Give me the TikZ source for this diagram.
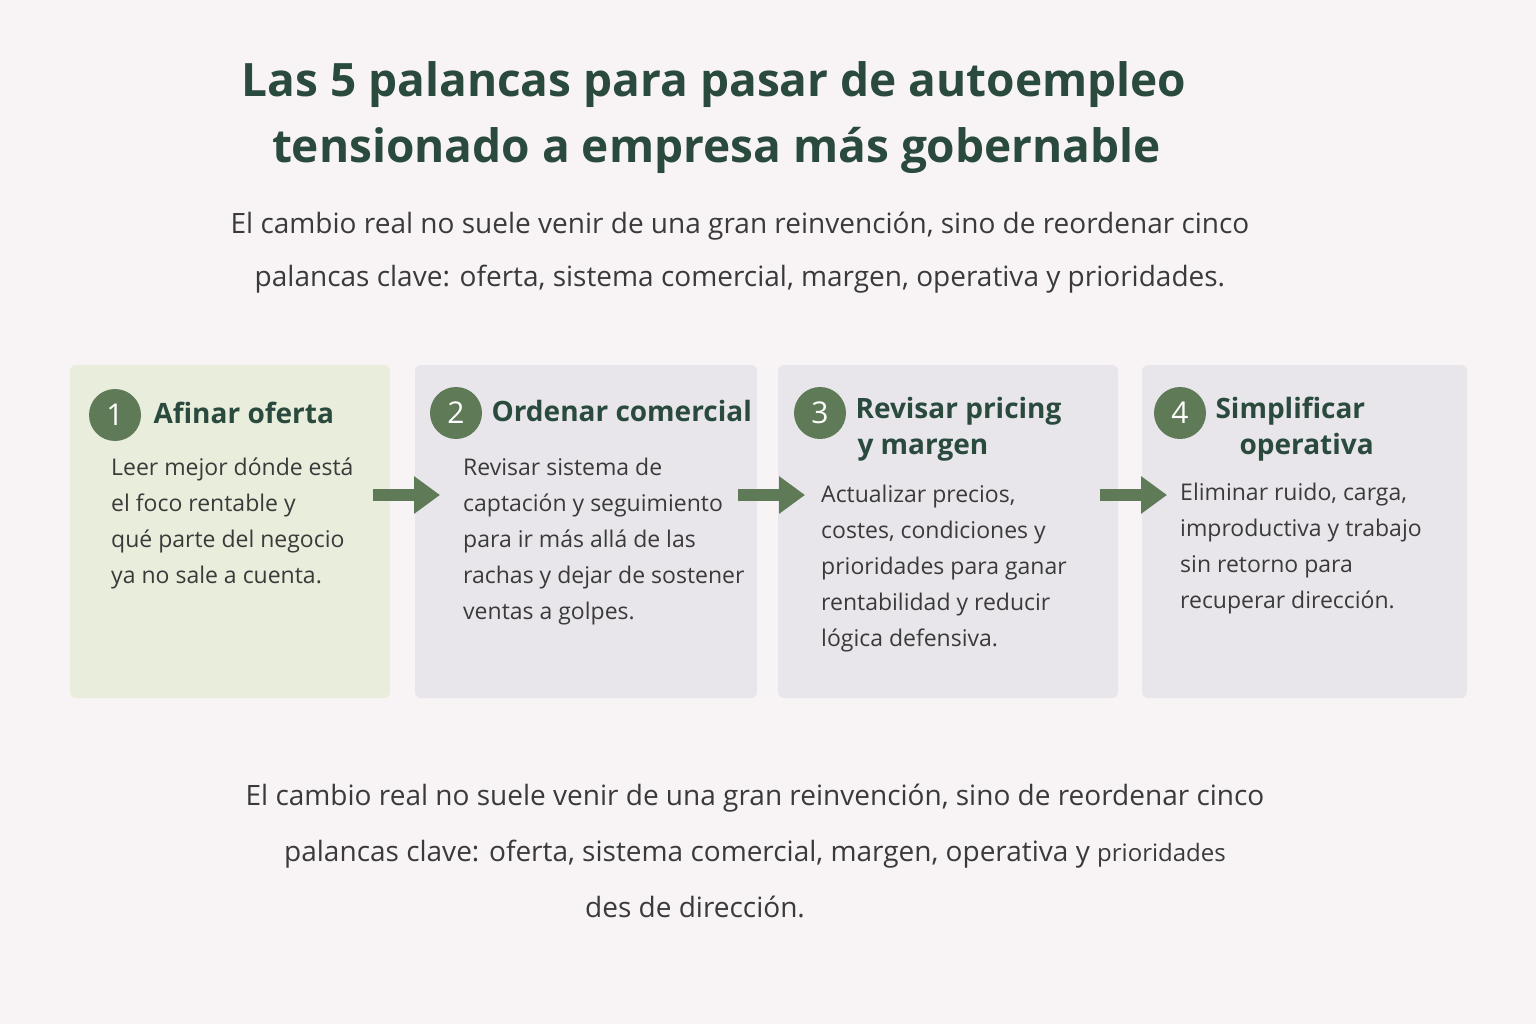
\documentclass[tikz,border=0pt]{standalone}
\usepackage{fontspec}
\setmainfont{Open Sans}
\usetikzlibrary{positioning,arrows.meta}
\definecolor{bgpaper}{HTML}{F8F4F6}
\definecolor{deepgreen}{HTML}{2A4A3E}
\definecolor{leafgreen}{HTML}{5E7A57}
\definecolor{greenbox}{HTML}{E9EDDC}
\definecolor{graybox}{HTML}{E8E6EA}
\definecolor{inktext}{HTML}{3A3A3A}
\begin{document}
\begin{tikzpicture}[x=1pt,y=-1pt,
    card/.style={draw=none,rounded corners=6pt},
    num node/.style={circle,fill=leafgreen,text=white,minimum size=52pt,inner sep=0pt,font=\fontsize{30}{30}\selectfont},
    head/.style={anchor=west,align=left,text=deepgreen,font=\fontsize{28}{36}\selectfont\bfseries},
    body/.style={anchor=north west,align=left,text=inktext,inner sep=0pt,font=\fontsize{23}{36}\selectfont},
    step arrow/.style={-{Triangle[length=26pt,width=36pt]},line width=12pt,draw=leafgreen}]
%Background
    \fill[bgpaper] (0,0) rectangle (1536,1024);
%Title
    \node[text=deepgreen,font=\fontsize{46}{66}\selectfont\bfseries,align=center] (title) at (714,118)
        {Las 5 palancas para pasar de autoempleo\\\hspace*{5pt}tensionado a empresa más gobernable};
    \node[text=inktext,font=\fontsize{28}{53}\selectfont,align=center] (intro) at (740,253)
        {El cambio real no suele venir de una gran reinvención, sino de reordenar cinco\\palancas clave: oferta, sistema comercial, margen, operativa y prioridades.};
%Cards
    \fill[card,greenbox] (70,365) rectangle (390,698);
    \fill[card,graybox] (415,365) rectangle (757,698);
    \fill[card,graybox] (778,365) rectangle (1118,698);
    \fill[card,graybox] (1142,365) rectangle (1467,698);
%Numbers
    \node[num node] (N1) at (115,415) {1};
    \node[num node] (N2) at (456,413) {2};
    \node[num node] (N3) at (820,413) {3};
    \node[num node] (N4) at (1180,413) {4};
%Headings
    \node[head] (H1) at (150,413) {Afinar oferta};
    \node[head] (H2) at (488,411) {Ordenar comercial};
    \node[head] (H3) at (852,429) {Revisar pricing\\\hspace*{2pt}y margen};
    \node[head] (H4) at (1212,429) {Simplificar\\\hspace*{24pt}operativa};
%Texts
    \node[body] (T1) at (111,458) {Leer mejor dónde está\\el foco rentable y\\qué parte del negocio\\ya no sale a cuenta.};
    \node[body] (T2) at (463,458) {Revisar sistema de\\captación y seguimiento\\para ir más allá de las\\rachas y dejar de sostener\\ventas a golpes.};
    \node[body] (T3) at (821,485) {Actualizar precios,\\costes, condiciones y\\prioridades para ganar\\rentabilidad y reducir\\lógica defensiva.};
    \node[body] (T4) at (1180,483) {Eliminar ruido, carga,\\improductiva y trabajo\\sin retorno para\\recuperar dirección.};
%Arrows
    \coordinate (A1s) at (373,495); \coordinate (A1e) at (440,495);
    \coordinate (A2s) at (738,495); \coordinate (A2e) at (805,495);
    \coordinate (A3s) at (1100,495); \coordinate (A3e) at (1167,495);
    \draw[step arrow] (A1s) -- (A1e);
    \draw[step arrow] (A2s) -- (A2e);
    \draw[step arrow] (A3s) -- (A3e);
%Closing
    \node[text=inktext,font=\fontsize{28}{56}\selectfont,align=center] (outro) at (755,851)
        {El cambio real no suele venir de una gran reinvención, sino de reordenar cinco\\palancas clave: oferta, sistema comercial, margen, operativa y {\fontsize{24}{24}\selectfont prioridades}\\\hspace*{-120pt}des de dirección.};
\end{tikzpicture}
\end{document}
